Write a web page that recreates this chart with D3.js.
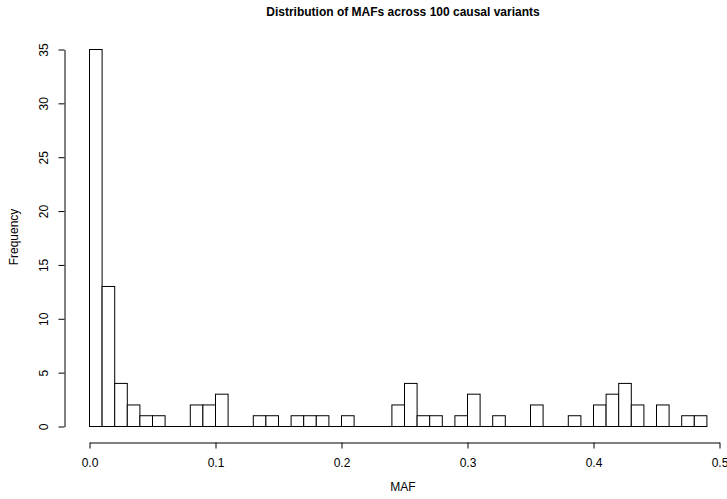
<!DOCTYPE html>
<html>
<head>
<meta charset="utf-8">
<script src="https://cdn.jsdelivr.net/npm/d3@7"></script>
<style>
  html, body { margin: 0; padding: 0; background: #fff; }
  svg { display: block; }
  text { font-family: "Liberation Sans", Arial, Helvetica, sans-serif; fill: #000; }
</style>
</head>
<body>
<svg id="chart" width="727" height="499"></svg>
<script>
// Histogram bins: lower edges (width 0.01) and counts
const binStarts = [0.00,0.01,0.02,0.03,0.04,0.05,0.06,0.07,0.08,0.09,
                   0.10,0.11,0.12,0.13,0.14,0.15,0.16,0.17,0.18,0.19,
                   0.20,0.21,0.22,0.23,0.24,0.25,0.26,0.27,0.28,0.29,
                   0.30,0.31,0.32,0.33,0.34,0.35,0.36,0.37,0.38,0.39,
                   0.40,0.41,0.42,0.43,0.44,0.45,0.46,0.47,0.48];
const counts = [35,13,4,2,1,1,0,0,2,2,
                3,0,0,1,1,0,1,1,1,0,
                1,0,0,0,2,4,1,1,0,1,
                3,0,1,0,0,2,0,0,1,0,
                2,3,4,2,0,2,0,1,1];
const binWidth = 0.01;
const xTicks = [0, 0.1, 0.2, 0.3, 0.4, 0.5];
const yTicks = [0, 5, 10, 15, 20, 25, 30, 35];
const titleText = "Distribution of MAFs across 100 causal variants";
const xLabel = "MAF";
const yLabel = "Frequency";

const svg = d3.select("#chart");
const x = d3.scaleLinear().domain([0, 0.5]).range([89.5, 719.5]);
const y = d3.scaleLinear().domain([0, 35]).range([426.5, 49.5]);

// baseline for zero-height bins
svg.append("line")
  .attr("x1", x(binStarts[0])).attr("x2", x(binStarts[binStarts.length - 1] + binWidth))
  .attr("y1", y(0)).attr("y2", y(0))
  .attr("stroke", "#000").attr("stroke-width", 1);

svg.append("g").selectAll("rect")
  .data(binStarts.map((b, i) => ({ b, c: counts[i] })).filter(d => d.c > 0))
  .join("rect")
  .attr("x", d => x(d.b))
  .attr("width", d => x(d.b + binWidth) - x(d.b))
  .attr("y", d => y(d.c))
  .attr("height", d => y(0) - y(d.c))
  .attr("fill", "#fff")
  .attr("stroke", "#000")
  .attr("stroke-width", 1);

// x axis
const xAxis = svg.append("g")
  .attr("transform", "translate(0,442.5)")
  .call(d3.axisBottom(x).tickValues(xTicks).tickFormat(d3.format(".1f")).tickSize(6).tickSizeOuter(0).tickPadding(9.5));
xAxis.selectAll("text").style("font-size", "12px").style("font-family", "Liberation Sans, Arial, sans-serif");
xAxis.selectAll("line, path").attr("stroke", "#000");

// y axis
const yAxis = svg.append("g")
  .attr("transform", "translate(64.5,0)")
  .call(d3.axisLeft(y).tickValues(yTicks).tickFormat(d3.format("d")).tickSize(6).tickSizeOuter(0));
yAxis.selectAll("line, path").attr("stroke", "#000");
yAxis.selectAll("text")
  .style("font-size", "12px").style("font-family", "Liberation Sans, Arial, sans-serif")
  .attr("x", null).attr("dy", null)
  .attr("text-anchor", "middle")
  .attr("transform", "translate(-17,0) rotate(-90)");

// title
svg.append("text")
  .attr("x", 403).attr("y", 16)
  .attr("text-anchor", "middle")
  .style("font-size", "12px").style("font-weight", "bold")
  .text(titleText);

// x label
svg.append("text")
  .attr("x", 403).attr("y", 491)
  .attr("text-anchor", "middle")
  .style("font-size", "12px")
  .text(xLabel);

// y label
svg.append("text")
  .attr("transform", "translate(18,237) rotate(-90)")
  .attr("text-anchor", "middle")
  .style("font-size", "12px")
  .text(yLabel);
</script>
</body>
</html>
